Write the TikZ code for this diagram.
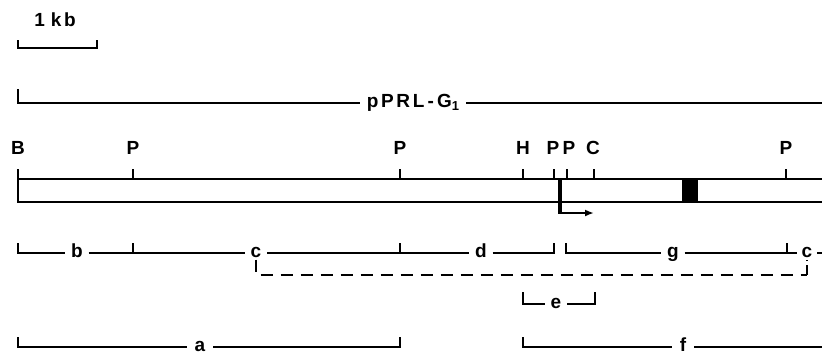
\documentclass[tikz,border=0pt]{standalone}
\usepackage{fontspec}
\setmainfont{Liberation Sans}
\newfontfamily\lblfont[LetterSpace=14]{Liberation Sans}
\usetikzlibrary{arrows.meta}
\begin{document}
\begin{tikzpicture}[x=1pt,y=-1pt, line width=1.8pt,
  txt/.style={font=\lblfont\bfseries\fontsize{19}{19}\selectfont, inner sep=0pt},
  frag/.style={txt, text height=9.5pt, text depth=0pt, inner xsep=5pt, inner ysep=1pt},
  site/.style={txt, anchor=base},
  dashline/.style={dash pattern=on 12pt off 8pt}]
\useasboundingbox (0,0) rectangle (822,360);
% scale bar
\node[site] (kb) at (55,26) {1\hspace{6pt}kb};
\draw (18,40) -- (18,48) -- (97,48) -- (97,40);
% clone
\node[frag, inner xsep=6pt] (pprl) at (413,103) {pPRL\,-\,G\raisebox{-3pt}{\fontsize{13}{13}\selectfont 1}};
\draw (18,89) -- (18,103) -- (pprl) -- (822,103);
% restriction sites
\foreach \nm/\x/\t in {sB/18/B, sP1/133/P, sP2/400/P, sH/523/H, sP3/553/P, sP4/569/P, sC/593/C, sP5/786/P}
  \node[site] (\nm) at (\x,154) {\t};
\foreach \x in {18,133,400,523,554,567,594,786}
  \draw (\x,169) -- (\x,179);
% gene bar
\draw (822,179) -- (18,179) -- (18,202) -- (822,202);
\fill (682,179) rectangle (698,202);
% promoter arrow
\draw[line width=3.2pt] (560,178) -- (560,213.5);
\draw[-{Latex[length=9pt,width=7pt]}, line width=1.8pt] (558.4,213) -- (594,213);
% fragments row 1
\node[frag] (b) at (77,253) {b};
\node[frag] (c1) at (256,253) {c};
\node[frag] (d) at (481,253) {d};
\node[frag] (g) at (673,253) {g};
\node[frag, inner xsep=4pt] (c2) at (807,253) {c};
\draw (18,243) -- (18,253) -- (b) -- (133,253);
\draw (133,243) -- (133,253) -- (c1);
\draw (c1) -- (400,253) -- (400,243);
\draw (400,253) -- (d) -- (554,253) -- (554,243);
\draw (566,243) -- (566,253) -- (g) -- (787,253) -- (787,243);
\draw (787,253) -- (c2) -- (822,253);
\coordinate (dl) at (256,275);
\coordinate (dr) at (807,275);
\draw[dashline] (c1) -- (dl) -- (dr);
\draw[dash pattern=on 10pt off 4pt] (dr) -- (c2);
% fragment e
\node[frag] (e) at (556,304) {e};
\draw (523,292) -- (523,304) -- (e) -- (595,304) -- (595,292);
% fragments a and f
\node[frag, inner xsep=7pt] (a) at (200,347) {a};
\node[frag, inner xsep=7pt] (f) at (683,347) {f};
\draw (18,337) -- (18,347) -- (a) -- (400,347) -- (400,337);
\draw (523,337) -- (523,347) -- (f) -- (822,347);
\end{tikzpicture}
\end{document}
